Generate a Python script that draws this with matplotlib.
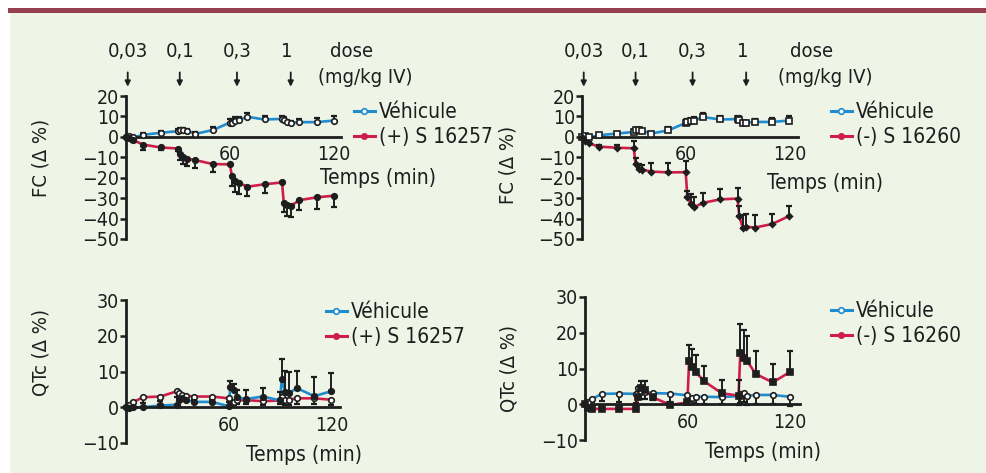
import matplotlib
matplotlib.use('Agg')
import matplotlib.pyplot as plt
from matplotlib.patches import Rectangle
from matplotlib.lines import Line2D

# DejaVu Sans Condensed is the closest match to the narrow font of the original
plt.rcParams['font.family'] = ['DejaVu Sans']
plt.rcParams['font.stretch'] = 'condensed'

# ------------------------------------------------------------------
# data
# ------------------------------------------------------------------
t = [0, 2, 4, 10, 20, 30, 31, 33, 35, 40, 50, 60, 61, 63, 65, 70, 80, 90, 91, 93, 95, 100, 110, 120]

dose_labels = ['0,03', '0,1', '0,3', '1']
dose_times = [1, 31, 64, 95]

# FC, (+) S 16257
veh_fc_l = [0, 0.5, -0.3, 1, 2, 2.8, 3.5, 3.5, 3, 1.5, 3.3, 7, 7, 8, 8.3, 9.8, 8.5, 8.8, 8.2, 7.3, 7, 7.2, 7.2, 8]
veh_fc_l_err = [0, 0.5, 0.5, 0.8, 1, 1, 1, 1, 1, 1, 1.5, 1.5, 1.5, 1.5, 1.5, 2, 1.5, 1.5, 1.5, 1, 1, 1.5, 2, 2]
drg_fc_l = [0, -0.8, -1.6, -3.8, -5.2, -5.7, -8.5, -10, -10.7, -11.4, -13.3, -13.5, -19.2, -21.5, -22.5,
            -24.4, -23.2, -22.3, -32.5, -33.5, -33.8, -31, -29.6, -28.8]
drg_fc_l_err = [0, 0.5, 0.8, 2.8, 1, 1, 3, 3.5, 3.5, 3.7, 4, 0, 4.8, 5.3, 5.7, 4.5, 4.2, 0, 4.5, 5.2, 5.2, 5, 5.5, 5.4]

# FC, (-) S 16260
veh_fc_r = [0, 0.5, -0.3, 0.8, 1.6, 2.4, 3.2, 3.2, 2.9, 1.6, 3.2, 6.8, 7.1, 7.6, 8, 9.7, 8.5, 8.7, 8.2, 6.9, 6.9, 7.3, 7.3, 8]
veh_fc_r_err = [0, 0.5, 0.5, 0.8, 1, 1, 1, 1, 1, 1, 1.5, 1.5, 1.5, 1.5, 1.5, 2, 1.5, 1.5, 1.5, 1, 1, 1.5, 2, 2]
drg_fc_r = [0, -2.1, -3.2, -4.8, -5.3, -5.6, -13.5, -15.5, -16, -17, -17.4, -17.3, -29.5, -33, -34.4,
            -32.3, -30.6, -30.2, -38.7, -44.4, -44, -44.4, -42.7, -38.7]
drg_fc_r_err = [0, 0.5, 0.5, 0.8, 1.3, 3.6, 3, 2, 2, 4, 4.4, 5.3, 3, 5, 5, 5, 5, 5.2, 5, 6, 6, 6, 5, 4.7]

# QTc, (+) S 16257
veh_qt_l = [0, -0.3, 0, 0, 0.5, 0.7, 2, 2.5, 2, 1.5, 1.5, 0.3, 5.8, 4.7, 2.8, 2.3, 3, 1.9, 8, 4.2, 4, 5.3, 3.1, 4.5]
veh_qt_l_err = [0, 0, 0, 0, 0, 0, 1, 1, 1, 0.5, 0.5, 0, 1.5, 1.8, 2, 2.4, 2.4, 2.3, 5.4, 6, 6, 4.8, 5.5, 5]
drg_qt_l = [0, 0.7, 1.4, 2.8, 3, 4.5, 3.9, 3.5, 3.2, 3, 3, 2.5, 0.7, 1.4, 1.9, 2, 1.7, 1.9, 2.8, 2.1, 2.1, 2.5, 2.5, 2.1]
drg_qt_l_err = [0, 0.5, 0.5, 1.5, 1.2, 1.5, 1.5, 1.5, 1, 1, 1, 1, 0.5, 0.8, 1, 1, 1, 1, 1.5, 1.5, 1.5, 1.5, 1.5, 1.5]

# QTc, (-) S 16260
veh_qt_r = [0, 0.7, 1.5, 2.9, 3, 2.9, 4.5, 3.5, 3.5, 3.1, 3, 2.5, 1, 1.8, 2.1, 2.1, 2, 2.3, 2.9, 3.1, 2.4, 2.6, 2.6, 2.1]
veh_qt_r_err = [0, 0.5, 1, 2, 2.5, 2.5, 2, 2, 2, 2, 2.5, 2.5, 1, 1.5, 2, 2, 2, 2.5, 2.5, 2.5, 2.5, 2.5, 2.5, 2.5]
drg_qt_r = [0, -1.1, -1.3, -1.3, -1.3, -1.3, 2.1, 4.5, 4, 1.9, -0.2, 0.5, 12, 10.4, 8.9, 6.4, 3.1, 2.4,
            14.3, 12.9, 12.1, 8.5, 6.1, 9]
drg_qt_r_err = [0, 0, 0, 0, 0, 0, 1, 2, 2.4, 1, 0.5, 0.5, 4.6, 5.1, 4.9, 4.3, 3.7, 4.4, 8.2, 7.8, 7.1, 6.5, 5.1, 6]

BLUE = '#1f8ccf'
RED = '#cf1d4b'
INK = '#1e1e1e'
BG = '#eef4e6'

W, H = 987, 473
fig = plt.figure(figsize=(W / 100, H / 100), dpi=100, facecolor='white')

# background panel and top bar
fig.patches.append(Rectangle((10 / W, 0), 1, 1 - 13 / H, transform=fig.transFigure,
                             facecolor=BG, edgecolor='none', zorder=-10))
fig.patches.append(Rectangle((8 / W, 1 - 13.5 / H), 1, 5.5 / H, transform=fig.transFigure,
                             facecolor='#96404f', edgecolor='none', zorder=-9))


def make_ax(left, right, top, bottom):
    return fig.add_axes([left / W, 1 - bottom / H, (right - left) / W, (bottom - top) / H])


def style(ax, xmax, ylim, yticks):
    ax.set_facecolor('none')
    ax.set_xlim(0, xmax)
    ax.set_ylim(*ylim)
    for s in ['top', 'right']:
        ax.spines[s].set_visible(False)
    ax.spines['bottom'].set_position(('data', 0))
    for s in ['left', 'bottom']:
        ax.spines[s].set_linewidth(2)
        ax.spines[s].set_color(INK)
    ax.set_yticks(yticks)
    ax.set_xticks([60, 120])
    ax.tick_params(axis='y', direction='out', length=4, width=1.8, color=INK,
                   labelsize=14, labelcolor=INK, pad=1)
    ax.tick_params(axis='x', length=0, labelsize=14, labelcolor=INK, pad=6)


def series(ax, y, err, up, color, mk, mfc, ms):
    ax.plot(t, y, color=color, lw=1.9, zorder=2, clip_on=False)
    lo = [0] * len(err) if up else err
    hi = err if up else [0] * len(err)
    ax.errorbar(t, y, yerr=[lo, hi], fmt='none', ecolor=INK, elinewidth=1.4,
                capsize=2.3, capthick=1.6, zorder=3, clip_on=False)
    ax.plot(t, y, ls='none', marker=mk, ms=ms, mfc=mfc, mec=INK, mew=1.2,
            zorder=4, clip_on=False)


def legend(ax, drug, x, y):
    h = [Line2D([], [], color=BLUE, lw=2.2, marker='o', ms=4, mfc='white', mec=BLUE, mew=1.2),
         Line2D([], [], color=RED, lw=2.2, marker='o', ms=4, mfc=RED, mec=RED)]
    ax.legend(h, ['Véhicule', drug], loc='upper left', bbox_to_anchor=(x / W, 1 - y / H),
              bbox_transform=fig.transFigure, frameon=False, fontsize=15,
              handlelength=1.0, handletextpad=0.2, labelspacing=0.25,
              borderpad=0, borderaxespad=0, labelcolor=INK)


def doses(ax, xs):
    for lab, d in zip(dose_labels, dose_times):
        ax.annotate('', xy=(d, 1.065), xytext=(d, 1.165), xycoords=('data', 'axes fraction'),
                    arrowprops=dict(arrowstyle='-|>', lw=1.3, color=INK, mutation_scale=8,
                                    shrinkA=0, shrinkB=0))
        ax.text(d - (2 if lab == '1' else 0), 1.31, lab, transform=ax.get_xaxis_transform(),
                ha='center', va='center', fontsize=14.5, color=INK)
    ax.text(xs[0], 1.31, 'dose', transform=ax.get_xaxis_transform(),
            ha='center', va='center', fontsize=14.5, color=INK)
    ax.text(xs[1], 1.13, '(mg/kg IV)', transform=ax.get_xaxis_transform(),
            ha='center', va='center', fontsize=14.5, color=INK)


# ------------------------------------------------------------------
# FC, (+) S 16257
# ------------------------------------------------------------------
ax = make_ax(126, 341, 96, 239)
style(ax, 124, (-50, 20), range(-50, 21, 10))
series(ax, veh_fc_l, veh_fc_l_err, True, BLUE, 'o', 'white', 4)
series(ax, drg_fc_l, drg_fc_l_err, False, RED, 'o', INK, 4)
ax.set_ylabel('FC (Δ %)', fontsize=14.5, color=INK)
ax.yaxis.set_label_coords(-0.35, 0.57)
ax.text(1.17, 0.427, 'Temps (min)', transform=ax.transAxes, ha='center', va='center',
        fontsize=15, color=INK)
doses(ax, (130, 138))
legend(ax, '(+) S 16257', 354, 102)

# ------------------------------------------------------------------
# FC, (-) S 16260
# ------------------------------------------------------------------
ax = make_ax(582, 798, 96, 239)
style(ax, 125, (-50, 20), range(-50, 21, 10))
series(ax, veh_fc_r, veh_fc_r_err, True, BLUE, 's', 'white', 3.8)
series(ax, drg_fc_r, drg_fc_r_err, True, RED, 'D', INK, 3)
ax.set_ylabel('FC (Δ %)', fontsize=14.5, color=INK)
ax.yaxis.set_label_coords(-0.3, 0.52)
ax.text(1.125, 0.39, 'Temps (min)', transform=ax.transAxes, ha='center', va='center',
        fontsize=15, color=INK)
doses(ax, (133, 141))
legend(ax, '(-) S 16260', 831, 102)

# ------------------------------------------------------------------
# QTc, (+) S 16257
# ------------------------------------------------------------------
ax = make_ax(126, 340, 300, 443)
style(ax, 125, (-10, 30), range(-10, 31, 10))
series(ax, drg_qt_l, drg_qt_l_err, False, RED, 'o', 'white', 4)
series(ax, veh_qt_l, veh_qt_l_err, True, BLUE, 'o', INK, 4)
ax.set_ylabel('QTc (Δ %)', fontsize=14.5, color=INK)
ax.yaxis.set_label_coords(-0.355, 0.63)
ax.text(0.83, -0.084, 'Temps (min)', transform=ax.transAxes, ha='center', va='center',
        fontsize=15, color=INK)
legend(ax, '(+) S 16257', 326, 302)

# ------------------------------------------------------------------
# QTc, (-) S 16260
# ------------------------------------------------------------------
ax = make_ax(585, 800, 297, 440)
style(ax, 126, (-10, 30), range(-10, 31, 10))
series(ax, veh_qt_r, veh_qt_r_err, False, BLUE, 'o', 'white', 4)
series(ax, drg_qt_r, drg_qt_r_err, True, RED, 's', INK, 3.8)
ax.set_ylabel('QTc (Δ %)', fontsize=14.5, color=INK)
ax.yaxis.set_label_coords(-0.31, 0.5)
ax.text(0.83, -0.084, 'Temps (min)', transform=ax.transAxes, ha='center', va='center',
        fontsize=15, color=INK)
legend(ax, '(-) S 16260', 831, 301)

fig.savefig('out.png', dpi=100, facecolor='white')
